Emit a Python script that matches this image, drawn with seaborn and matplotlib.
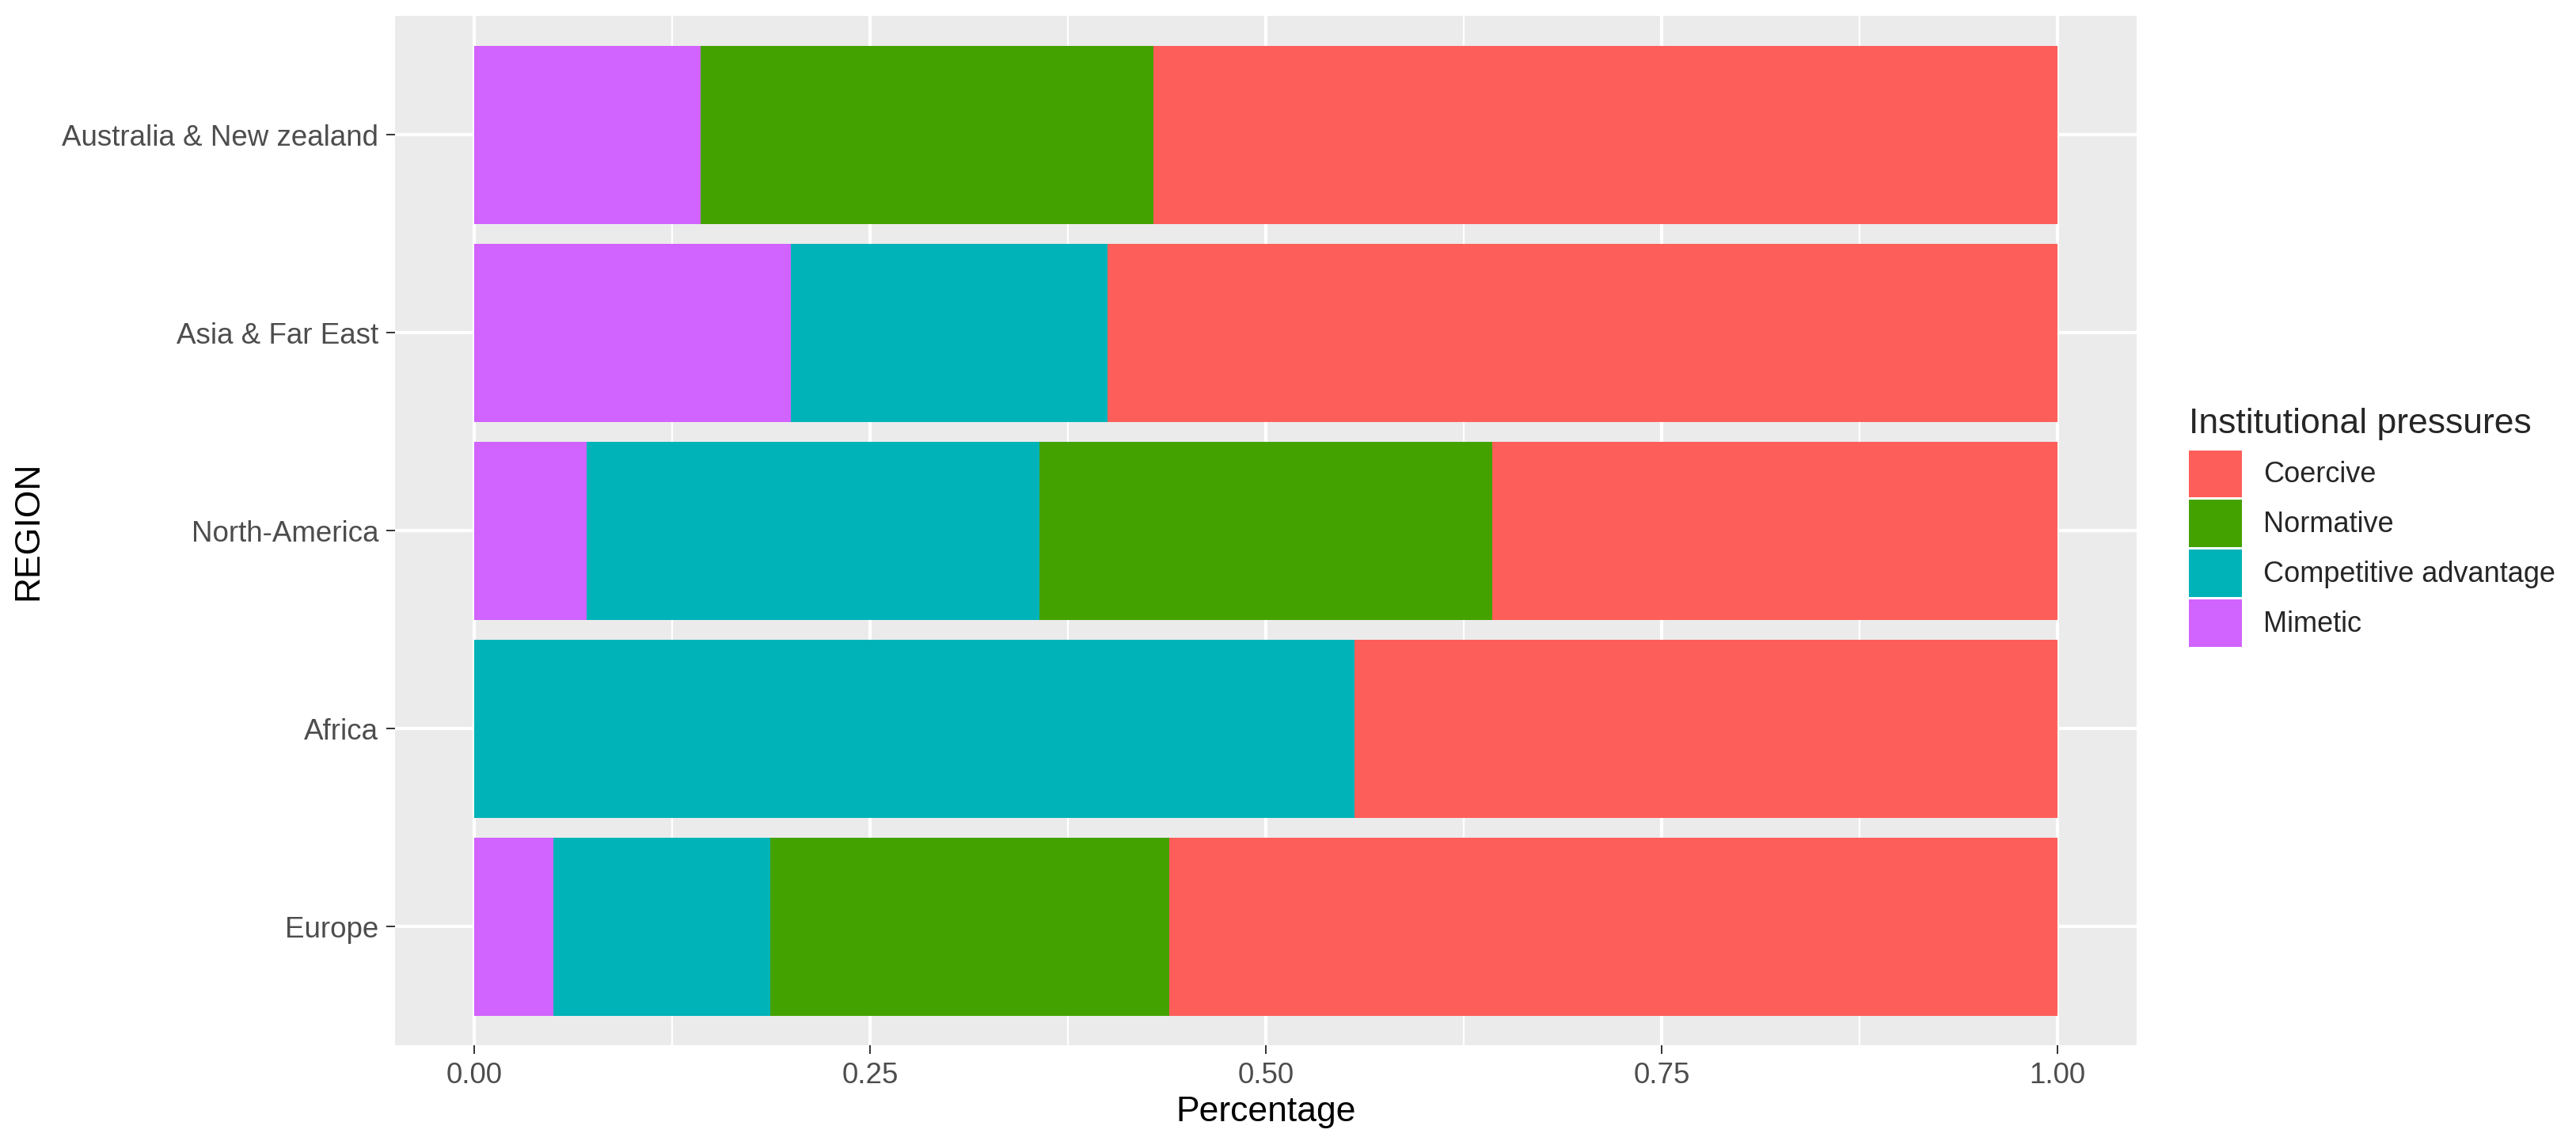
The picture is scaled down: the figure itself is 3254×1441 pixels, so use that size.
import matplotlib
matplotlib.use("Agg")
import matplotlib.pyplot as plt
from matplotlib.patches import Patch
from matplotlib.ticker import MultipleLocator
import pandas as pd
import seaborn as sns

# ── Data (shares per region) ──────────────────────────────────────────────────
regions     = ["Australia & New zealand", "Asia & Far East", "North-America", "Africa", "Europe"]
mimetic     = [0.143, 0.200, 0.071, 0.000, 0.050]
competitive = [0.000, 0.200, 0.286, 0.556, 0.137]
normative   = [0.286, 0.000, 0.286, 0.000, 0.252]
coercive    = [0.571, 0.600, 0.357, 0.444, 0.561]

pressures = ["Coercive", "Normative", "Competitive advantage", "Mimetic"]
colors = {
    "Coercive": "#FE5E5A",
    "Normative": "#44A200",
    "Competitive advantage": "#00B3B8",
    "Mimetic": "#D163FE",
}

xticks = [0.0, 0.25, 0.5, 0.75, 1.0]
xtick_labels = ["0.00", "0.25", "0.50", "0.75", "1.00"]

# ── Build cumulative frame (stack order left->right: Mimetic, Comp, Norm, Coercive)
df = pd.DataFrame({
    "region": regions,
    "Mimetic": mimetic,
    "Competitive advantage": competitive,
    "Normative": normative,
    "Coercive": coercive,
})
stack = ["Mimetic", "Competitive advantage", "Normative", "Coercive"]
cum = df[stack].cumsum(axis=1)
cum["region"] = df["region"]

sns.set_theme(style="darkgrid")
plt.rcParams["font.family"] = ["Liberation Sans", "DejaVu Sans"]

fig = plt.figure(figsize=(32.54, 14.41), dpi=100)
ax = fig.add_axes([499 / 3254, 1 - 1320 / 1441, 2200 / 3254, 1300 / 1441])
ax.set_facecolor("#EBEBEB")

# draw longest first so shorter segments sit on top
for name in reversed(stack):
    sns.barplot(
        data=cum, y="region", x=name, order=regions, orient="h",
        color=colors[name], width=0.9, linewidth=0, saturation=1,
        errorbar=None, ax=ax, zorder=3,
    )

ax.set_xlim(-0.05, 1.05)
ax.set_ylim(4.6, -0.6)
ax.set_xticks(xticks)
ax.set_xticklabels(xtick_labels)
ax.xaxis.set_minor_locator(MultipleLocator(0.125))

ax.grid(which="major", color="white", linewidth=3.0, zorder=0)
ax.grid(which="minor", axis="x", color="white", linewidth=1.6, zorder=0)
ax.set_axisbelow(True)
for s in ax.spines.values():
    s.set_visible(False)

ax.tick_params(axis="both", which="major", length=8, width=1.4, color="#333333",
               labelsize=26.5, labelcolor="#4D4D4D", pad=7,
               bottom=True, left=True)
ax.tick_params(axis="both", which="minor", length=0)

ax.set_xlabel("Percentage", fontsize=32, color="black", labelpad=6)
ax.set_ylabel("REGION", fontsize=32, color="black", labelpad=16)

handles = [Patch(facecolor=colors[p], edgecolor="none") for p in pressures]
leg = ax.legend(
    handles, pressures, title="Institutional pressures",
    loc="upper left", bbox_to_anchor=(2765 / 3254, 1 - 515 / 1441),
    bbox_transform=fig.transFigure, frameon=False,
    fontsize=26, title_fontsize=32, borderpad=0, borderaxespad=0,
    handlelength=1.85, handleheight=2.15, handletextpad=0.75,
    labelspacing=0.1,
)
leg._legend_box.align = "left"
leg._legend_box.sep = 9

fig.savefig("out.png", dpi=100)
